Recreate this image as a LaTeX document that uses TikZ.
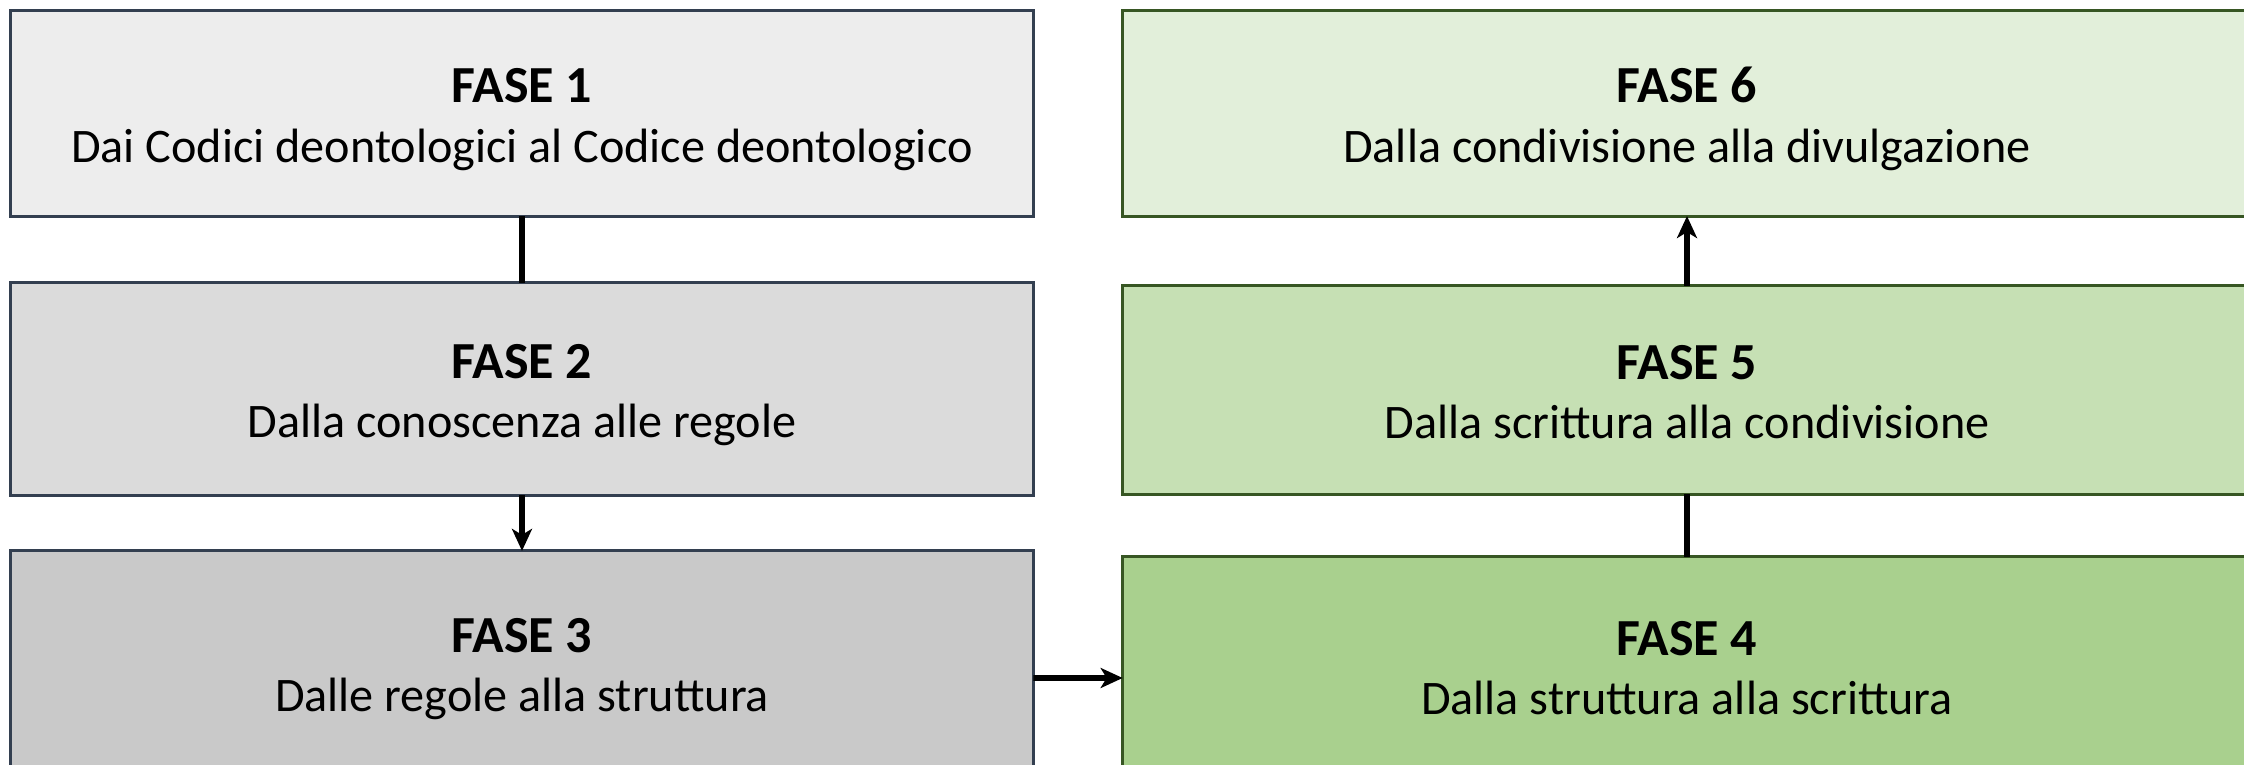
\documentclass[tikz,border=0pt]{standalone}
\usepackage{fontspec}
\setmainfont{Carlito}
\usetikzlibrary{arrows.meta}
\definecolor{greyline}{HTML}{333F50}
\definecolor{greenline}{HTML}{375623}
\definecolor{grey1}{HTML}{EDEDED}
\definecolor{grey2}{HTML}{DBDBDB}
\definecolor{grey3}{HTML}{C9C9C9}
\definecolor{green1}{HTML}{E2EFDA}
\definecolor{green2}{HTML}{C6E0B4}
\definecolor{green3}{HTML}{A9D08E}
\newcommand{\phasetext}[2]{\rule{0pt}{0.5cm}{\fontsize{14.8}{17}\selectfont\textbf{#1}}\\#2\rule[-0.12cm]{0pt}{0.12cm}}
\tikzstyle{phase}=[draw, line width=0.85pt, outer sep=0, align=center, font=\fontsize{13.7}{17}\selectfont]
\tikzstyle{grey phase}=[phase, draw=greyline, minimum width=10.22cm]
\tikzstyle{green phase}=[phase, draw=greenline, minimum width=11.28cm]
\tikzstyle{link}=[line width=1.7pt]
\tikzstyle{arrow}=[link, -{Stealth[length=0.22cm, width=0.2cm, inset=0.06cm]}]

\begin{document}
\begin{tikzpicture}[x=0.01cm, y=-0.01cm]
    \clip (0, 0) rectangle (2244, 765);
    \fill[white] (0, 0) rectangle (2244, 765);

    \node[grey phase, fill=grey1, minimum height=2.05cm] (f1) at (522, 113.5) {\phasetext{FASE 1}{Dai Codici deontologici al Codice deontologico}};
    \node[grey phase, fill=grey2, minimum height=2.12cm] (f2) at (522, 389) {\phasetext{FASE 2}{Dalla conoscenza alle regole}};
    \node[grey phase, fill=grey3, minimum height=2.24cm] (f3) at (522, 663) {\phasetext{FASE 3}{Dalle regole alla struttura}};
    \node[green phase, fill=green3, minimum height=2.18cm] (f4) at (1687, 666) {\phasetext{FASE 4}{Dalla struttura alla scrittura}};
    \node[green phase, fill=green2, minimum height=2.08cm] (f5) at (1687, 390) {\phasetext{FASE 5}{Dalla scrittura alla condivisione}};
    \node[green phase, fill=green1, minimum height=2.05cm] (f6) at (1687, 113.5) {\phasetext{FASE 6}{Dalla condivisione alla divulgazione}};

    \draw[link] (f1) to (f2);
    \draw[arrow] (f2) to (f3);
    \draw[arrow] ([yshift=-0.15cm]f3.east) to ([yshift=-0.12cm]f4.west);
    \draw[link] (f4) to (f5);
    \draw[arrow] (f5) to (f6);
  \end{tikzpicture}
\end{document}
